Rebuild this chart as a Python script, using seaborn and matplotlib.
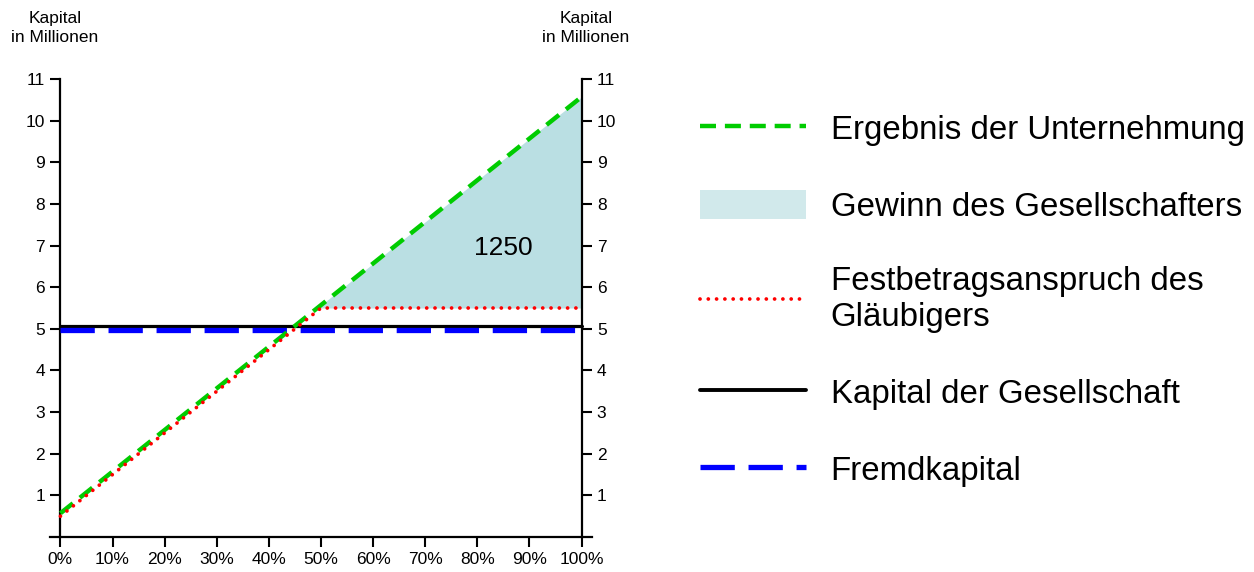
import numpy as np
import pandas as pd
import matplotlib
matplotlib.use("Agg")
import matplotlib.pyplot as plt
from matplotlib.lines import Line2D
from matplotlib.patches import Patch
import seaborn as sns

# ---- data ----
x_ergebnis = [0, 100]
y_ergebnis = [0.57, 10.57]
x_glaeubiger = [0, 50, 100]
y_glaeubiger = [0.5, 5.5, 5.5]
x_kapital = [0, 100]
y_kapital = [5.07, 5.07]
x_fremd = [0, 100]
y_fremd = [4.98, 4.98]
festbetrag = 5.5
gewinn_label = "1250"
gewinn_pos = (85, 6.95)
x_ticks = list(range(0, 101, 10))
x_ticklabels = [f"{v}%" for v in x_ticks]
y_ticks = list(range(1, 12))
labels = ["Ergebnis der Unternehmung", "Gewinn des Gesellschafters",
          "Festbetragsanspruch des\nGläubigers", "Kapital der Gesellschaft",
          "Fremdkapital"]

sns.set_theme(style="white")
plt.rcParams["font.family"] = ["Liberation Sans", "DejaVu Sans"]
plt.rcParams["text.color"] = "black"

c_green = "#00cc00"
c_red = "#ff0000"
c_blue = "#0000ff"
c_fill = "#badfe3"
red_ls = (0, (0.01, 2.2))

fig = plt.figure(figsize=(12.54, 5.72), dpi=100)
ax = fig.add_axes([50/1254, 35/572, 542/1254, 458/572])
ax.set_xlim(-2, 102)
ax.set_ylim(0, 11)

df_e = pd.DataFrame({"x": x_ergebnis, "y": y_ergebnis})
xe = np.array(x_ergebnis, dtype=float)
ye = np.array(y_ergebnis, dtype=float)
ax.fill_between(xe, ye, festbetrag, where=ye > festbetrag, interpolate=True,
                color=c_fill, linewidth=0, zorder=1)

sns.lineplot(data=pd.DataFrame({"x": x_kapital, "y": y_kapital}), x="x", y="y",
             ax=ax, color="black", linewidth=2.3, zorder=3)
sns.lineplot(data=pd.DataFrame({"x": x_fremd, "y": y_fremd}), x="x", y="y",
             ax=ax, color=c_blue, linewidth=3.8, linestyle=(0, (6.5, 2.6)), zorder=4)
sns.lineplot(data=df_e, x="x", y="y", ax=ax, color=c_green, linewidth=3.2,
             linestyle=(0, (3.6, 2.0)), zorder=5)
sns.lineplot(data=pd.DataFrame({"x": x_glaeubiger, "y": y_glaeubiger}), x="x", y="y",
             ax=ax, color=c_red, linewidth=2.7, linestyle=red_ls,
             dash_capstyle="round", zorder=6)

ax.text(gewinn_pos[0], gewinn_pos[1], gewinn_label, ha="center", va="center",
        fontsize=19, color="black", zorder=7)

ax.set_xlabel("")
ax.set_ylabel("")
for s in ["top", "right"]:
    ax.spines[s].set_visible(False)
ax.spines["left"].set_position(("data", 0))
ax.spines["bottom"].set_position(("data", 0))
for s in ["left", "bottom"]:
    ax.spines[s].set_color("black")
    ax.spines[s].set_linewidth(1.6)
ax.set_xticks(x_ticks)
ax.set_xticklabels(x_ticklabels)
ax.set_yticks(y_ticks)
ax.set_yticklabels([str(v) for v in y_ticks])
ax.tick_params(axis="both", direction="out", length=7, width=1.5, color="black",
               labelsize=12.5, labelcolor="black", pad=4)
ax.tick_params(axis="y", left=True)
ax.tick_params(axis="x", bottom=True)

ax2 = ax.twinx()
ax2.set_ylim(0, 11)
for s in ["top", "left", "bottom"]:
    ax2.spines[s].set_visible(False)
ax2.spines["right"].set_position(("data", 100))
ax2.spines["right"].set_color("black")
ax2.spines["right"].set_linewidth(1.6)
ax2.set_yticks(y_ticks)
ax2.set_yticklabels([str(v) for v in y_ticks])
ax2.tick_params(axis="y", direction="out", length=7, width=1.5, color="black",
                labelsize=12.5, labelcolor="black", right=True, pad=4)
ax2.grid(False)
ax.grid(False)

fig.text(55/1254, 1 - 28/572, "Kapital\nin Millionen", ha="center", va="center",
         fontsize=12.5, linespacing=1.25)
fig.text(586/1254, 1 - 28/572, "Kapital\nin Millionen", ha="center", va="center",
         fontsize=12.5, linespacing=1.25)

handles = [
    Line2D([0], [0], color=c_green, linewidth=3.2, linestyle=(0, (3.6, 2.0))),
    Patch(facecolor="#d1e9eb", edgecolor="none"),
    Line2D([0], [0], color=c_red, linewidth=2.7, linestyle=red_ls,
           dash_capstyle="round"),
    Line2D([0], [0], color="black", linewidth=2.8),
    Line2D([0], [0], color=c_blue, linewidth=3.8, linestyle=(0, (6.5, 2.6))),
]
fig.legend(handles, labels, loc="upper left", bbox_to_anchor=(700/1254, 1 - 113/572),
           frameon=False, fontsize=23.8, handlelength=3.2, handleheight=1.0,
           handletextpad=0.75, labelspacing=1.32, borderpad=0, borderaxespad=0)

fig.savefig("out.png", dpi=100)
